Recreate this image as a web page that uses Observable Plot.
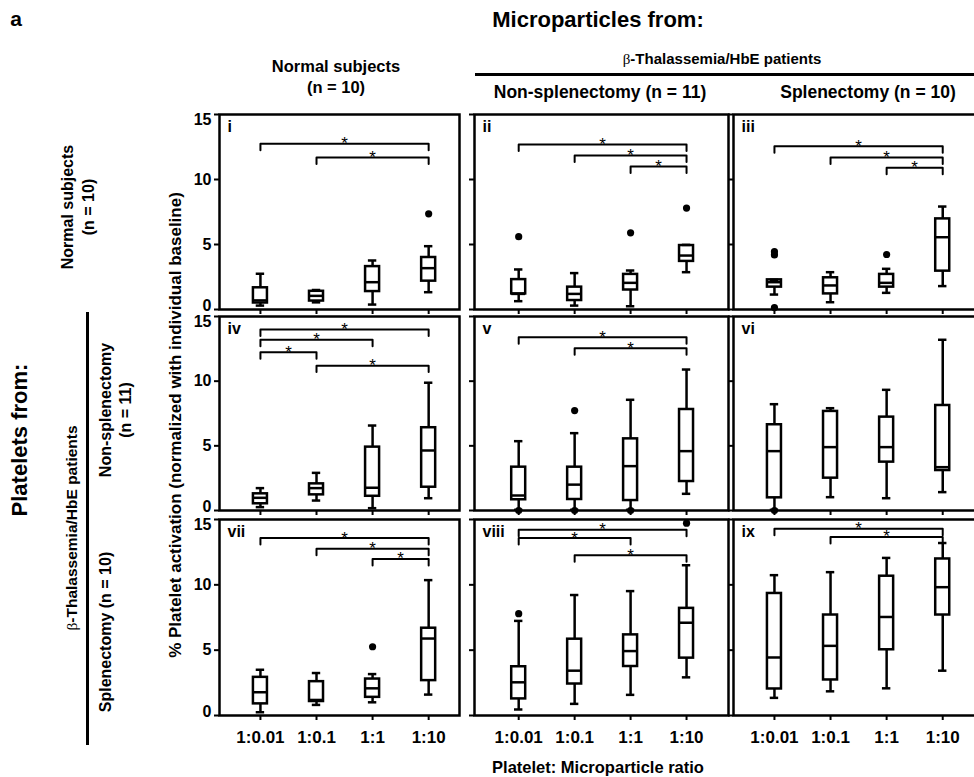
<!DOCTYPE html>
<html><head><meta charset="utf-8">
<script src="https://cdn.jsdelivr.net/npm/d3@7"></script>
<script src="https://cdn.jsdelivr.net/npm/@observablehq/plot@0.6"></script>
<style>
body{margin:0;background:#fff;overflow:hidden}
#root{position:relative;width:974px;height:777px;overflow:hidden;font-family:"Liberation Sans",Arial,sans-serif;color:#000;background:#fff}
.t{position:absolute;white-space:nowrap;font-weight:bold;transform:translate(-50%,-50%);line-height:1}
.r{transform:translate(-50%,-50%) rotate(-90deg)}
.beta{font-family:"Liberation Serif",serif;font-weight:normal}
.ln{position:absolute;background:#000}
.pan{position:absolute}
.pan svg{max-width:none !important}
</style></head><body><div id="root"></div>
<script>
// ---------- data ----------
const ratios = ["1:0.01", "1:0.1", "1:1", "1:10"];
const panelLabels = ["i", "ii", "iii", "iv", "v", "vi", "vii", "viii", "ix"];
// per panel (row-major), per ratio
const whiskerLow = [
  [0.3, 0.55, 0.38, 1.33], [0.64, 0.3, 0.25, 2.87], [1.15, 0.56, 1.28, 1.8],
  [0.26, 0.77, 0.18, 0.95], [0.05, 0.05, 0.05, 1.29], [0.05, 1.03, 0.95, 1.42],
  [0.25, 0.81, 1.01, 1.6], [0.46, 0.89, 1.58, 2.92], [1.35, 1.85, 2.08, 3.43]
];
const quartile1 = [
  [0.5, 0.65, 1.38, 2.18], [1.2, 0.69, 1.5, 3.7], [1.72, 1.2, 1.72, 2.95],
  [0.52, 1.21, 1.1, 1.8], [0.83, 0.85, 0.77, 2.24], [0.98, 2.5, 3.74, 3.09],
  [0.89, 1.07, 1.39, 2.67], [1.27, 2.41, 3.75, 4.39], [2.03, 2.72, 5.03, 7.69]
];
const median = [
  [0.7, 1.05, 2.1, 3.18], [1.2, 1.2, 2.05, 4.15], [2.1, 1.85, 2.05, 5.56],
  [0.98, 1.73, 1.76, 4.64], [1.16, 2.0, 3.43, 4.59], [4.59, 4.9, 4.9, 3.35],
  [1.78, 1.19, 2.08, 5.89], [2.54, 3.43, 4.93, 7.1], [4.44, 5.33, 7.54, 9.82]
];
const quartile3 = [
  [1.67, 1.4, 3.3, 4.0], [2.3, 1.72, 2.7, 4.92], [2.28, 2.44, 2.7, 6.97],
  [1.29, 2.06, 4.9, 6.4], [3.35, 3.35, 5.54, 7.81], [6.63, 7.66, 7.22, 8.12],
  [2.92, 2.59, 2.79, 6.68], [3.73, 5.84, 6.17, 8.2], [9.34, 7.69, 10.66, 11.98]
];
const whiskerHigh = [
  [2.75, 1.5, 3.77, 4.87], [3.08, 2.8, 3.0, 4.97], [2.28, 2.87, 3.13, 7.92],
  [1.73, 2.91, 6.57, 9.88], [5.36, 5.98, 8.56, 10.9], [8.22, 7.91, 9.33, 13.2],
  [3.5, 3.25, 3.17, 10.36], [7.24, 9.22, 9.52, 11.5], [10.74, 10.97, 12.06, 13.2]
];
// outliers: [ratio index, value]
const outliers = [
  [[3, 7.36]],
  [[0, 5.6], [2, 5.9], [3, 7.8]],
  [[0, 4.2], [0, 4.45], [0, 0.15], [2, 4.23]],
  [],
  [[0, 0], [1, 0], [2, 0], [1, 7.73]],
  [[0, 0]],
  [[2, 5.26]],
  [[0, 7.79], [3, 14.72]],
  []
];
// significance brackets: [from ratio, to ratio, level]
const brackets = [
  [[0, 3, 12.75], [1, 3, 11.7]],
  [[0, 3, 12.7], [1, 3, 11.85], [2, 3, 11.0]],
  [[0, 3, 12.56], [1, 3, 11.7], [2, 3, 10.9]],
  [[0, 3, 14.0], [0, 2, 13.2], [0, 1, 12.24], [1, 3, 11.2]],
  [[0, 3, 13.4], [1, 3, 12.55]],
  [],
  [[0, 3, 13.58], [1, 3, 12.77], [2, 3, 11.98]],
  [[0, 3, 14.22], [0, 2, 13.58], [1, 3, 12.26]],
  [[0, 3, 14.3], [1, 3, 13.66]]
];
const yTicks = [0, 5, 10, 15];

// ---------- layout ----------
const root = document.getElementById("root");
const STEP = 56;
const cols = [{left: 219, dom: [-0.73, 3.55], ml: 42}, {left: 474, dom: [-0.79, 3.75], ml: 8}, {left: 733, dom: [-0.73, 3.62], ml: 8}];
const rows = [{top: 114, h: 195}, {top: 316, h: 194}, {top: 519, h: 196}];
const MT = 6, MR = 6;

function addText(html, x, y, size, extra = "") {
  const d = document.createElement("div");
  d.className = "t " + extra;
  d.style.left = x + "px"; d.style.top = y + "px"; d.style.fontSize = size + "px";
  d.innerHTML = html;
  root.appendChild(d);
}
function addLine(x, y, w, h) {
  const d = document.createElement("div");
  d.className = "ln";
  Object.assign(d.style, {left: x + "px", top: y + "px", width: w + "px", height: h + "px"});
  root.appendChild(d);
}

for (let r = 0; r < 3; r++) {
  for (let c = 0; c < 3; c++) {
    const p = r * 3 + c;
    const col = cols[c], row = rows[r];
    const fw = (col.dom[1] - col.dom[0]) * STEP;
    const mb = r === 2 ? 36 : 8;
    const width = Math.round(col.ml + fw + MR), height = MT + row.h + mb;
    const boxes = ratios.map((k, i) => ({
      i, lo: whiskerLow[p][i], q1: quartile1[p][i], med: median[p][i], q3: quartile3[p][i], hi: whiskerHigh[p][i]
    }));
    const outs = outliers[p].map(([i, v]) => ({i, v}));
    const br = brackets[p].map(([a, b, L], k) => ({a, b, L, k}));
    const brPts = br.flatMap(d => [
      {k: d.k, x: d.a, y: d.L - 0.5}, {k: d.k, x: d.a, y: d.L},
      {k: d.k, x: d.b, y: d.L}, {k: d.k, x: d.b, y: d.L - 0.5}
    ]);
    const tickText = (vals, dy) => Plot.text(c === 0 ? vals : [], {x: col.dom[0], y: d => d, text: d => String(d), textAnchor: "end", dx: -8, dy, fontSize: 16, fontWeight: "bold"});
    const svg = Plot.plot({
      width, height,
      marginLeft: col.ml, marginRight: MR, marginTop: MT, marginBottom: mb,
      x: {domain: col.dom},
      y: {domain: [0, 15]},
      style: {background: "transparent", overflow: "visible", maxWidth: "none", fontFamily: "Liberation Sans, Arial, sans-serif", fontSize: "17px", fontWeight: "bold", color: "#000"},
      marks: [
        Plot.axisY({ticks: yTicks, tickSize: 5, strokeWidth: 2, label: null, tickFormat: () => ""}),
        tickText([5, 10], 0),
        tickText([15], 5),
        tickText([0], -4),
        Plot.axisX({ticks: [0, 1, 2, 3], tickSize: 5, strokeWidth: 2, tickPadding: 10, label: null,
          tickFormat: r === 2 ? i => ratios[i] : () => "", fontSize: 17, fontWeight: "bold"}),
        Plot.ruleX(boxes, {x: "i", y1: "lo", y2: "hi", strokeWidth: 2.5}),
        Plot.rect(boxes, {x1: d => d.i - 0.125, x2: d => d.i + 0.125, y1: "q1", y2: "q3", fill: "white", stroke: "black", strokeWidth: 2.5}),
        Plot.ruleY(boxes, {x1: d => d.i - 0.125, x2: d => d.i + 0.125, y: "med", strokeWidth: 2.5}),
        Plot.ruleY(boxes, {x1: d => d.i - 0.075, x2: d => d.i + 0.075, y: "hi", strokeWidth: 2.5}),
        Plot.ruleY(boxes, {x1: d => d.i - 0.075, x2: d => d.i + 0.075, y: "lo", strokeWidth: 2.5}),
        Plot.dot(outs, {x: "i", y: "v", r: 3.6, fill: "black"}),
        Plot.line(brPts, {x: "x", y: "y", z: "k", stroke: "black", strokeWidth: 2}),
        Plot.text(br, {x: d => (d.a + d.b) / 2, y: "L", text: () => "*", fontSize: 17, fontWeight: "normal", dy: 0}),
        Plot.text([panelLabels[p]], {frameAnchor: "top-left", text: d => d, dx: 8, dy: 6, textAnchor: "start", lineAnchor: "top", fontSize: 16, fontWeight: "bold"}),
        Plot.frame({strokeWidth: 2.5})
      ]
    });
    const wrap = document.createElement("div");
    wrap.className = "pan";
    wrap.style.left = (col.left - col.ml) + "px";
    wrap.style.top = (row.top - MT) + "px";
    wrap.style.width = width + "px";
    wrap.style.height = height + "px";
    wrap.appendChild(svg);
    root.appendChild(wrap);
  }
}

// ---------- titles ----------
addText("a", 16, 18, 21);
addText("Microparticles from:", 598, 20, 22);
addText("Normal subjects", 336, 66, 16.5);
addText("(n = 10)", 336, 87, 16.5);
addText('<span class="beta">β</span>-Thalassemia/HbE patients', 722, 59, 15);
addLine(475, 73, 499, 3);
addText("Non-splenectomy (n = 11)", 600, 93, 17.5);
addText("Splenectomy (n = 10)", 868, 93, 17.5);

addText("Platelets from:", 20, 440, 22, "r");
addText("Normal subjects", 68, 207, 16, "r");
addText("(n = 10)", 89, 207, 16, "r");
addLine(86, 312, 3, 433);
addText('<span class="beta">β</span>-Thalassemia/HbE patients', 72, 528, 15.5, "r");
addText("Non-splenectomy", 106, 410, 16, "r");
addText("(n = 11)", 126, 410, 16, "r");
addText("Splenectomy (n = 10)", 106, 632, 16, "r");
addText("% Platelet activation (normalized with individual baseline)", 175, 425, 17, "r");
addText("Platelet: Microparticle ratio", 598, 767, 16.5);
</script>
</body></html>
